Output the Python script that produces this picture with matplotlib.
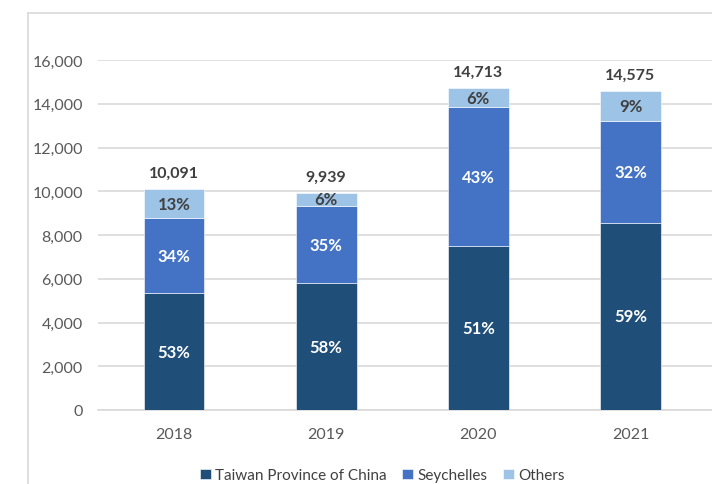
import matplotlib.pyplot as plt
import matplotlib.lines as mlines
import numpy as np

years = ['2018', '2019', '2020', '2021']
taiwan = [5340, 5790, 7500, 8550]
seychelles = [3420, 3520, 6330, 4680]
others = [1331, 629, 883, 1345]

series_names = ['Taiwan Province of China', 'Seychelles', 'Others']
colors = ['#1f4e79', '#4472c4', '#9dc3e6']
label_colors = ['white', 'white', '#404040']

plt.rcParams['font.family'] = ['Lato', 'DejaVu Sans']


def main():
    fig = plt.figure(figsize=(7.12, 4.85), dpi=100)
    ax = fig.add_axes([98 / 712, 74 / 485, 1 - 98 / 712, (411 - 61) / 485])

    # light frame round the chart area
    fig.add_artist(mlines.Line2D([28 / 712, 28 / 712], [0, 1 - 14 / 485],
                                 color='#d9d9d9', lw=1.2))
    fig.add_artist(mlines.Line2D([28 / 712, 1], [1 - 14 / 485, 1 - 14 / 485],
                                 color='#d9d9d9', lw=1.2))

    x = np.arange(len(years))
    data = np.array([taiwan, seychelles, others], dtype=float)
    totals = data.sum(axis=0)
    bottom = np.zeros(len(years))
    for vals, name, c, lc in zip(data, series_names, colors, label_colors):
        ax.bar(x, vals, 0.4, bottom=bottom, color=c, label=name,
               edgecolor='white', linewidth=0.4, zorder=3)
        for xi, v, b, t in zip(x, vals, bottom, totals):
            ax.text(xi, b + v / 2, f'{round(v / t * 100):.0f}%', ha='center',
                    va='center', color=lc, fontsize=12, fontweight='bold', zorder=4)
        bottom += vals

    for xi, t in zip(x, totals):
        ax.text(xi, t + 420, f'{t:,.0f}', ha='center', va='bottom',
                color='#404040', fontsize=11.5, fontweight='bold')

    ax.set_xlim(-0.5, 3.536)
    ax.set_ylim(0, 16000)
    ax.set_yticks(np.arange(0, 16001, 2000))
    ax.set_yticklabels([f'{v:,}' for v in range(0, 16001, 2000)])
    ax.set_xticks(x)
    ax.set_xticklabels(years)
    ax.yaxis.grid(True, color='#d9d9d9', lw=1.2, zorder=0)
    ax.set_axisbelow(True)
    for s in ['top', 'right', 'left']:
        ax.spines[s].set_visible(False)
    ax.spines['bottom'].set_color('#d9d9d9')
    ax.spines['bottom'].set_linewidth(1.2)
    ax.tick_params(axis='both', length=0, labelsize=11.5, labelcolor='#595959')
    ax.tick_params(axis='y', pad=11)
    ax.tick_params(axis='x', pad=12)

    fig.legend(loc='lower center', bbox_to_anchor=(0.537, -0.025), ncol=3,
               frameon=False, fontsize=11, handlelength=0.7, handleheight=0.7,
               handletextpad=0.3, columnspacing=1.0, labelcolor='#404040')

    fig.savefig('out.png', dpi=100)


if __name__ == "__main__":
    main()
